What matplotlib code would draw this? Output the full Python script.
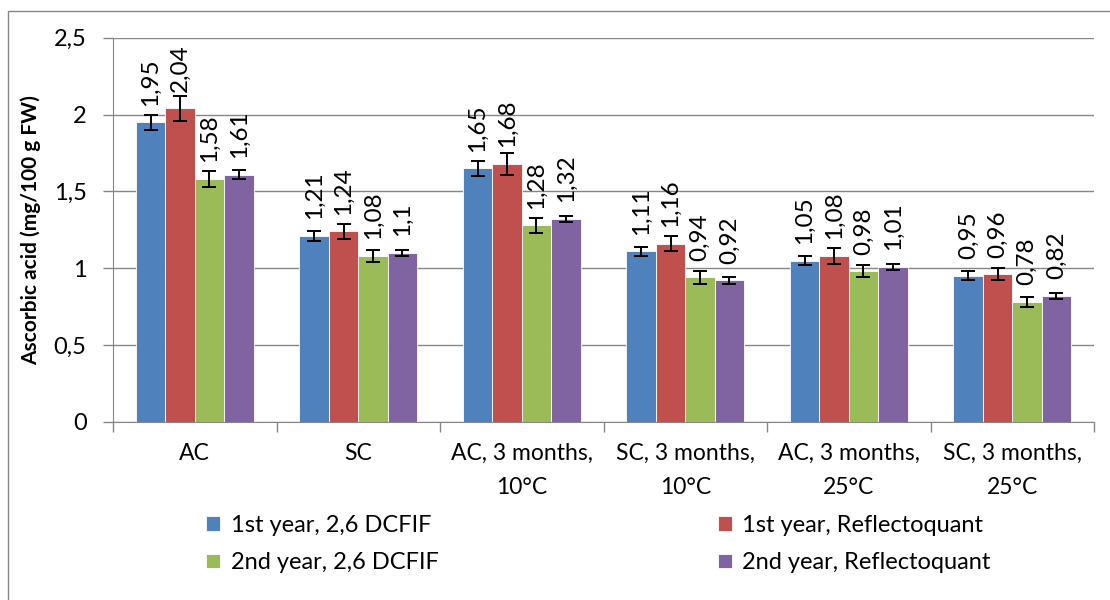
import matplotlib
matplotlib.use("Agg")
import matplotlib.pyplot as plt
import numpy as np
from matplotlib.patches import Rectangle

categories = ["AC", "SC", "AC, 3 months,\n10°C", "SC, 3 months,\n10°C",
              "AC, 3 months,\n25°C", "SC, 3 months,\n25°C"]
series_names = ["1st year, 2,6 DCFIF", "1st year, Reflectoquant",
                "2nd year, 2,6 DCFIF", "2nd year, Reflectoquant"]
y1_dcfif = [1.95, 1.21, 1.65, 1.11, 1.05, 0.95]
y1_refl = [2.04, 1.24, 1.68, 1.16, 1.08, 0.96]
y2_dcfif = [1.58, 1.08, 1.28, 0.94, 0.98, 0.78]
y2_refl = [1.61, 1.10, 1.32, 0.92, 1.01, 0.82]
err1_dcfif = [0.05, 0.03, 0.05, 0.03, 0.03, 0.03]
err1_refl = [0.08, 0.05, 0.07, 0.05, 0.05, 0.04]
err2_dcfif = [0.05, 0.04, 0.05, 0.04, 0.04, 0.03]
err2_refl = [0.03, 0.02, 0.02, 0.02, 0.02, 0.02]
value_labels = [
    ["1,95", "1,21", "1,65", "1,11", "1,05", "0,95"],
    ["2,04", "1,24", "1,68", "1,16", "1,08", "0,96"],
    ["1,58", "1,08", "1,28", "0,94", "0,98", "0,78"],
    ["1,61", "1,1", "1,32", "0,92", "1,01", "0,82"],
]
yticks = [0, 0.5, 1, 1.5, 2, 2.5]
ytick_labels = ["0", "0,5", "1", "1,5", "2", "2,5"]

colors = ["#4F81BD", "#C0504D", "#9BBB59", "#8064A2"]

plt.rcParams['font.family'] = ['Lato', 'DejaVu Sans']
FS = 16.5

fig = plt.figure(figsize=(11.1, 6.0), dpi=100)
ax = fig.add_axes([0.1018, 0.297, 0.8838, 0.640])

series = [y1_dcfif, y1_refl, y2_dcfif, y2_refl]
errs = [err1_dcfif, err1_refl, err2_dcfif, err2_refl]
x = np.arange(len(categories))
w = 0.18
handles = []
for i, (vals, er) in enumerate(zip(series, errs)):
    pos = x + (i - 1.5) * w
    b = ax.bar(pos, vals, width=w, color=colors[i], edgecolor="white",
               linewidth=0.6, zorder=2, label=series_names[i])
    handles.append(b)
    ax.errorbar(pos, vals, yerr=er, fmt="none", ecolor="black",
                elinewidth=1.4, capsize=4.7, capthick=1.4, zorder=3)
    for p, v, t in zip(pos, vals, value_labels[i]):
        ax.annotate(t, (p, v), xytext=(0, 12), textcoords="offset points",
                    rotation=90, ha="center", va="bottom", fontsize=17.5,
                    color="black", zorder=4)

ax.set_xlim(-0.5, len(categories) - 0.5)
ax.set_ylim(0, 2.5)
ax.set_yticks(yticks)
ax.set_yticklabels(ytick_labels, fontsize=17)
ax.set_xticks(x)
ax.set_xticklabels(categories, fontsize=FS, linespacing=1.8)
ax.tick_params(axis="x", which="major", length=0, pad=15)
ax.set_xticks(np.arange(-0.5, len(categories), 1.0), minor=True)
ax.tick_params(axis="x", which="minor", length=7, color="#868686", width=1.0)
ax.tick_params(axis="y", length=7, color="#868686", pad=12, width=1.0)
ax.yaxis.grid(True, color="#868686", linewidth=1.0, zorder=0)
ax.set_axisbelow(True)
for s in ["top", "right"]:
    ax.spines[s].set_visible(False)
ax.spines["left"].set_color("#868686")
ax.spines["bottom"].set_color("#868686")
ax.set_ylabel("Ascorbic acid (mg/100 g FW)", fontsize=15, fontweight="bold",
              labelpad=9)

leg_kw = dict(loc="upper left", ncol=1, frameon=False, fontsize=17,
              handlelength=0.58, handleheight=0.58, handletextpad=0.45,
              labelspacing=0.7, borderpad=0, borderaxespad=0)
fig.legend(handles=[handles[0], handles[2]],
           labels=[series_names[0], series_names[2]],
           bbox_to_anchor=(0.186, 0.142), **leg_kw)
fig.legend(handles=[handles[1], handles[3]],
           labels=[series_names[1], series_names[3]],
           bbox_to_anchor=(0.647, 0.142), **leg_kw)

fig.patches.append(Rectangle((0.0072, -0.05), 1.1, 1.031, transform=fig.transFigure,
                             fill=False, edgecolor="#868686", linewidth=1.0))

fig.savefig("out.png", dpi=100)
